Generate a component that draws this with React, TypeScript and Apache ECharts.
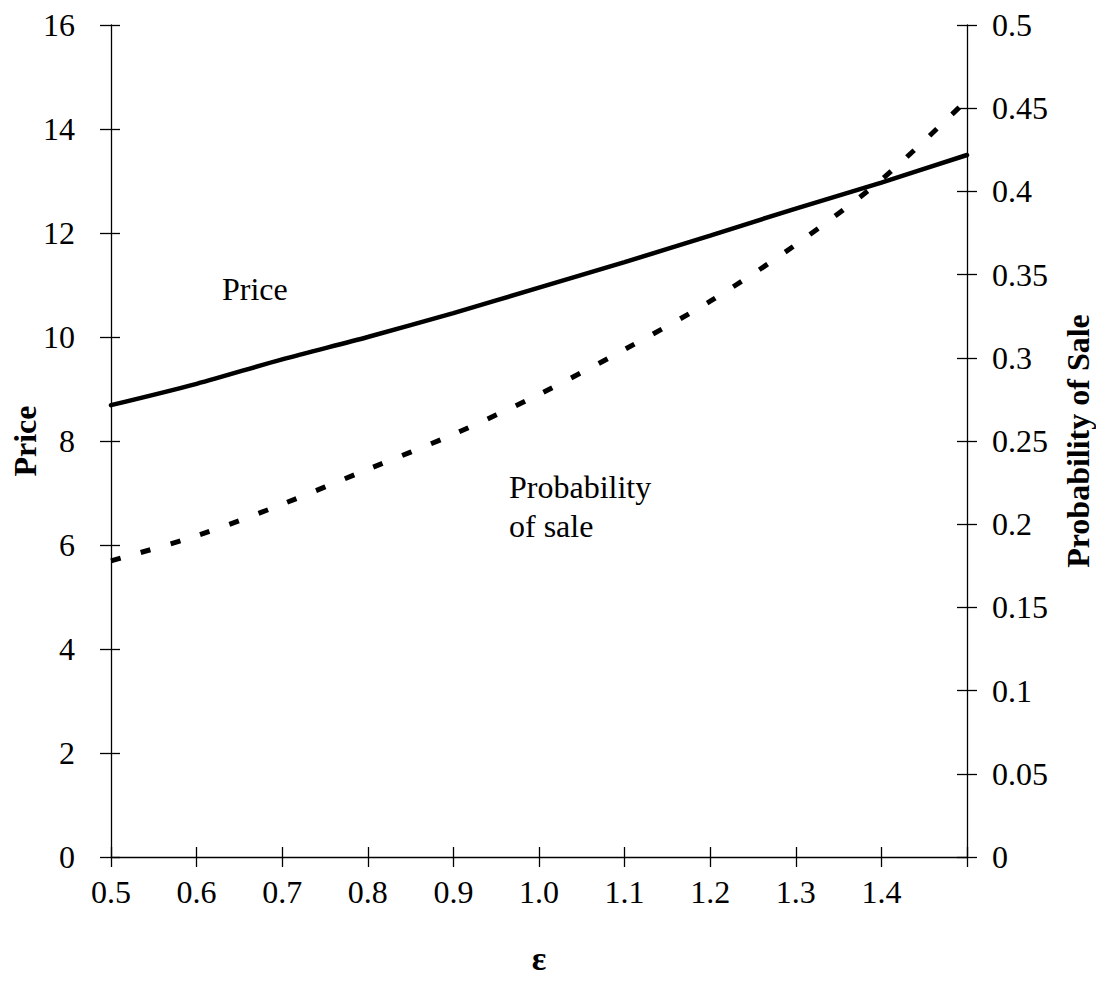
import React, { useEffect, useRef } from "react";
import * as echarts from "echarts";

const epsilon = [0.5, 0.6, 0.7, 0.8, 0.9, 1.0, 1.1, 1.2, 1.3, 1.4, 1.5];
const price = [8.69, 9.1, 9.57, 10.0, 10.46, 10.95, 11.44, 11.95, 12.47, 12.97, 13.5];
const probSale = [0.178, 0.193, 0.212, 0.233, 0.254, 0.278, 0.305, 0.334, 0.368, 0.407, 0.455];

const FONT = "'Liberation Serif', 'Times New Roman', serif";
const FS = 32;

export default function App() {
  const ref = useRef<HTMLDivElement>(null);
  useEffect(() => {
    if (!ref.current) return;
    const chart = echarts.init(ref.current, undefined, { renderer: "svg" });
    const axisLine = { show: true, lineStyle: { color: "#000", width: 1.3 } };
    const tickStyle = { color: "#000", width: 1.3 };
    const labelStyle = { color: "#000", fontFamily: FONT, fontSize: FS };
    const xFmt = (v: number) => (Math.abs(v - 1.5) < 1e-6 ? "" : v.toFixed(1));
    const option: any = {
      animation: false,
      backgroundColor: "#fff",
      grid: { left: 111, right: 129, top: 25, bottom: 126, containLabel: false, outerBoundsMode: "none" },
      xAxis: [
        {
          type: "value",
          min: 0.5,
          max: 1.5,
          interval: 0.1,
          axisLine,
          axisTick: { show: true, inside: false, length: 10, lineStyle: tickStyle },
          axisLabel: { ...labelStyle, margin: 19, formatter: xFmt },
          splitLine: { show: false },
          name: "ε",
          nameLocation: "middle",
          nameGap: 84,
          nameTextStyle: { color: "#000", fontFamily: FONT, fontSize: 34, fontWeight: "bold" },
        },
        {
          type: "value",
          position: "bottom",
          min: 0.5,
          max: 1.5,
          interval: 0.1,
          axisLine: { show: false },
          axisTick: { show: true, inside: true, length: 10, lineStyle: tickStyle },
          axisLabel: { show: false },
          splitLine: { show: false },
        },
      ],
      yAxis: [
        {
          type: "value",
          position: "left",
          min: 0,
          max: 16,
          interval: 2,
          axisLine,
          axisTick: { show: true, inside: false, length: 11, lineStyle: tickStyle },
          axisLabel: { ...labelStyle, margin: 36 },
          splitLine: { show: false },
          name: "Price",
          nameLocation: "middle",
          nameGap: 70,
          nameMoveOverlap: false,
          nameTextStyle: { color: "#000", fontFamily: FONT, fontSize: 32, fontWeight: "bold" },
        },
        {
          type: "value",
          position: "right",
          min: 0,
          max: 0.5,
          interval: 0.05,
          axisLine,
          axisTick: { show: true, inside: false, length: 10, lineStyle: tickStyle },
          axisLabel: { ...labelStyle, margin: 25 },
          splitLine: { show: false },
          name: "Probability of Sale",
          nameLocation: "middle",
          nameGap: 95,
          nameRotate: 90,
          nameTextStyle: { color: "#000", fontFamily: FONT, fontSize: 32, fontWeight: "bold" },
        },
        {
          type: "value",
          position: "left",
          min: 0,
          max: 16,
          interval: 2,
          axisLine: { show: false },
          axisTick: { show: true, inside: true, length: 9, lineStyle: tickStyle },
          axisLabel: { show: false },
          splitLine: { show: false },
        },
        {
          type: "value",
          position: "right",
          min: 0,
          max: 0.5,
          interval: 0.05,
          axisLine: { show: false },
          axisTick: { show: true, inside: true, length: 10, lineStyle: tickStyle },
          axisLabel: { show: false },
          splitLine: { show: false },
        },
      ],
      series: [
        {
          type: "line",
          name: "Price",
          xAxisIndex: 0,
          yAxisIndex: 0,
          data: epsilon.map((e, i) => [e, price[i]]),
          showSymbol: false,
          smooth: 0.3,
          lineStyle: { color: "#000", width: 4.5, cap: "round" },
        },
        {
          type: "line",
          name: "Probability of sale",
          xAxisIndex: 0,
          yAxisIndex: 1,
          data: epsilon.map((e, i) => [e, probSale[i]]),
          showSymbol: false,
          smooth: 0.3,
          lineStyle: { color: "#000", width: 5, type: [10, 21], cap: "butt" },
        },
      ],
      graphic: [
        {
          type: "text",
          left: 222,
          top: 273,
          style: { text: "Price", fill: "#000", font: `${FS}px ${FONT}` },
        },
        {
          type: "text",
          left: 509,
          top: 467,
          style: { text: "Probability\nof sale", fill: "#000", font: `${FS}px ${FONT}`, lineHeight: 39 },
        },
      ],
    };
    chart.setOption(option);
    return () => chart.dispose();
  }, []);
  return (
    <div
      ref={ref}
      style={{ position: "fixed", left: 0, top: 0, width: 1096, height: 983, background: "#fff" }}
    />
  );
}
